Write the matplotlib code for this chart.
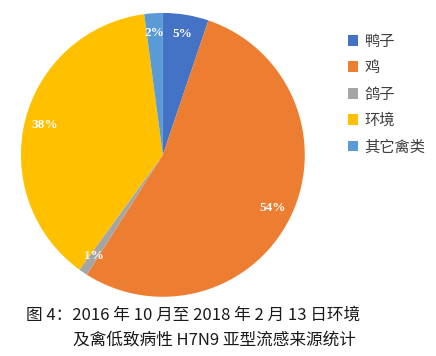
import matplotlib
matplotlib.use("Agg")
import matplotlib.pyplot as plt

# share of H7N9 sources, percent
sources = ["鸭子", "鸡", "鸽子", "环境", "其它禽类"]
shares = [5.2, 53.8, 1.0, 37.9, 2.1]
share_labels = ["5%", "54%", "1%", "38%", "2%"]
colors = ["#4472C4", "#ED7D31", "#A5A5A5", "#FFC000", "#5B9BD5"]

caption_1 = "图 4：2016 年 10 月至 2018 年 2 月 13 日环境"
caption_2 = "及禽低致病性 H7N9 亚型流感来源统计"

plt.rcParams["font.family"] = ["Noto Sans CJK SC", "DejaVu Sans"]

fig = plt.figure(figsize=(4.36, 3.56), dpi=100)
fig.patch.set_facecolor("white")

ax = fig.add_axes([0.048, 0.166, 0.651, 0.798])
wedges, texts = ax.pie(shares, colors=colors, startangle=90, counterclock=False,
                       labels=share_labels, labeldistance=0.86,
                       wedgeprops=dict(linewidth=0))
for t in texts:
    t.set_color("white")
    t.set_fontweight("bold")
    t.set_fontsize(9.5)
    t.set_family(["Liberation Serif", "DejaVu Serif"])
    t.set_ha("center")
    t.set_va("center")
ax.set_xlim(-1, 1)
ax.set_ylim(-1, 1)
ax.set_aspect("equal")
ax.axis("off")

fig.legend(wedges, sources, loc="upper left", bbox_to_anchor=(0.78, 0.93),
           frameon=False, fontsize=11, handlelength=0.7, handleheight=0.7,
           handletextpad=0.4, labelspacing=0.62, borderpad=0,
           labelcolor="#404040")

fig.text(0.06, 0.115, caption_1, fontsize=12, color="#1a1a1a", va="center")
fig.text(0.167, 0.045, caption_2, fontsize=12, color="#1a1a1a", va="center")

fig.savefig("out.png", dpi=100)
